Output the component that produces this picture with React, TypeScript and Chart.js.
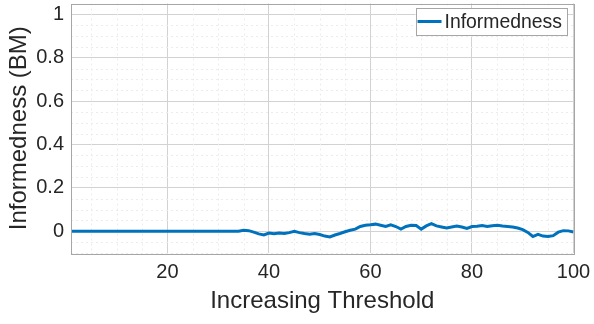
import React, { useEffect, useRef } from "react";
import { Chart, registerables } from "chart.js";

Chart.register(...registerables);

const thresholds: number[] = Array.from({ length: 100 }, (_, i) => i + 1);
const informedness: number[] = [
  0, 0, 0, 0, 0, 0, 0, 0, 0, 0,
  0, 0, 0, 0, 0, 0, 0, 0, 0, 0,
  0, 0, 0, 0, 0, 0, 0, 0, 0, 0,
  0, 0, 0, 0, 0.005, 0.003, -0.004, -0.012, -0.017, -0.008,
  -0.011, -0.008, -0.01, -0.006, 0.0, -0.006, -0.01, -0.013, -0.01, -0.015,
  -0.022, -0.026, -0.017, -0.01, -0.002, 0.005, 0.01, 0.022, 0.028, 0.03,
  0.033, 0.028, 0.022, 0.03, 0.022, 0.01, 0.022, 0.028, 0.027, 0.01,
  0.025, 0.035, 0.025, 0.02, 0.015, 0.02, 0.024, 0.02, 0.013, 0.022,
  0.023, 0.027, 0.022, 0.026, 0.028, 0.024, 0.022, 0.02, 0.015, 0.008,
  -0.005, -0.024, -0.014, -0.022, -0.024, -0.02, -0.004, 0.003, 0.002, -0.003,
];
const xTicks: number[] = [20, 40, 60, 80, 100];
const yTicks: number[] = [0, 0.2, 0.4, 0.6, 0.8, 1];
const seriesLabel = "Informedness";
const xTitle = "Increasing Threshold";
const yTitle = "Informedness (BM)";

const FONT = "'Liberation Sans', Arial, Helvetica, sans-serif";
const LINE_COLOR = "#0072BD";

const boxAndGrid = {
  id: "boxAndGrid",
  beforeDatasetsDraw(chart: any) {
    const { ctx, chartArea: a, scales } = chart;
    const xs = scales.x;
    const ys = scales.y;
    ctx.save();
    ctx.strokeStyle = "#ececec";
    ctx.lineWidth = 1;
    ctx.setLineDash([2, 3]);
    for (let v = 5; v <= 100; v += 5) {
      if (v % 20 === 0) continue;
      const px = Math.round(xs.getPixelForValue(v)) + 0.5;
      ctx.beginPath();
      ctx.moveTo(px, a.top);
      ctx.lineTo(px, a.bottom);
      ctx.stroke();
    }
    for (let k = -2; k <= 21; k++) {
      if (k % 4 === 0) continue;
      const v = k * 0.05;
      if (v < ys.min || v > ys.max) continue;
      const py = Math.round(ys.getPixelForValue(v)) + 0.5;
      ctx.beginPath();
      ctx.moveTo(a.left, py);
      ctx.lineTo(a.right, py);
      ctx.stroke();
    }
    ctx.restore();
  },
  afterDatasetsDraw(chart: any) {
    const { ctx, chartArea: a } = chart;
    ctx.save();
    ctx.strokeStyle = "#a6a6a6";
    ctx.lineWidth = 1;
    ctx.strokeRect(Math.round(a.left) + 0.5, Math.round(a.top) + 0.5, Math.round(a.right - a.left), Math.round(a.bottom - a.top));
    // legend
    ctx.font = `19.4px ${FONT}`;
    const tw = ctx.measureText(seriesLabel).width;
    const w = 2 + 24 + 3 + tw + 5;
    const h = 27;
    const right = Math.round(a.right - 7);
    const left = right - w;
    const top = Math.round(a.top + 4);
    ctx.fillStyle = "#ffffff";
    ctx.fillRect(left, top, w, h);
    ctx.strokeStyle = "#a6a6a6";
    ctx.strokeRect(Math.round(left) + 0.5, top + 0.5, Math.round(w), h);
    ctx.strokeStyle = LINE_COLOR;
    ctx.lineWidth = 3;
    ctx.beginPath();
    ctx.moveTo(left + 2, top + h / 2);
    ctx.lineTo(left + 26, top + h / 2);
    ctx.stroke();
    ctx.fillStyle = "#262626";
    ctx.textBaseline = "middle";
    ctx.textAlign = "left";
    ctx.fillText(seriesLabel, left + 29, top + h / 2 + 1);
    ctx.restore();
  },
};

export default function App() {
  const ref = useRef<HTMLCanvasElement | null>(null);
  useEffect(() => {
    document.body.style.margin = "0";
    const canvas = ref.current;
    if (!canvas) return;
    const chart = new Chart(canvas, {
      type: "line",
      data: {
        labels: thresholds,
        datasets: [
          {
            label: seriesLabel,
            data: thresholds.map((x, i) => ({ x, y: informedness[i] })),
            borderColor: LINE_COLOR,
            backgroundColor: LINE_COLOR,
            borderWidth: 3,
            pointRadius: 0,
            tension: 0,
          },
        ],
      },
      options: {
        animation: false,
        responsive: false,
        maintainAspectRatio: false,
        layout: { padding: { top: 3.5, right: 20.5, left: 0, bottom: 0 } },
        plugins: { legend: { display: false }, tooltip: { enabled: false } },
        scales: {
          x: {
            type: "linear",
            min: 1,
            max: 100,
            afterBuildTicks: (s: any) => {
              s.ticks = xTicks.map((v) => ({ value: v }));
            },
            afterFit: (s: any) => {
              s.height = 71;
              s.paddingLeft = 0;
              s.paddingRight = 0;
            },
            grid: { color: "#d2d2d2", drawTicks: false, lineWidth: 1 },
            border: { display: false },
            ticks: {
              color: "#262626",
              font: { family: FONT, size: 20 },
              padding: 7,
              maxRotation: 0,
              autoSkip: false,
            },
            title: {
              display: true,
              text: xTitle,
              color: "#262626",
              font: { family: FONT, size: 24 },
              padding: { top: 0, bottom: 8 },
            },
          },
          y: {
            type: "linear",
            min: -0.1,
            max: 1.05,
            afterBuildTicks: (s: any) => {
              s.ticks = yTicks.map((v) => ({ value: v }));
            },
            afterFit: (s: any) => {
              s.width = 71;
              s.paddingTop = 0;
              s.paddingBottom = 0;
            },
            grid: { color: "#d2d2d2", drawTicks: false, lineWidth: 1 },
            border: { display: false },
            ticks: {
              color: "#262626",
              font: { family: FONT, size: 20 },
              padding: 7,
              callback: (v: any) => String(Math.round(Number(v) * 10) / 10),
            },
            title: {
              display: true,
              text: yTitle,
              color: "#262626",
              font: { family: FONT, size: 24 },
              padding: { top: 5, bottom: 0 },
            },
          },
        },
      },
      plugins: [boxAndGrid],
    });
    return () => chart.destroy();
  }, []);
  return (
    <div style={{ width: 594, height: 324 }}>
      <canvas ref={ref} width={594} height={324} style={{ display: "block" }} />
    </div>
  );
}
